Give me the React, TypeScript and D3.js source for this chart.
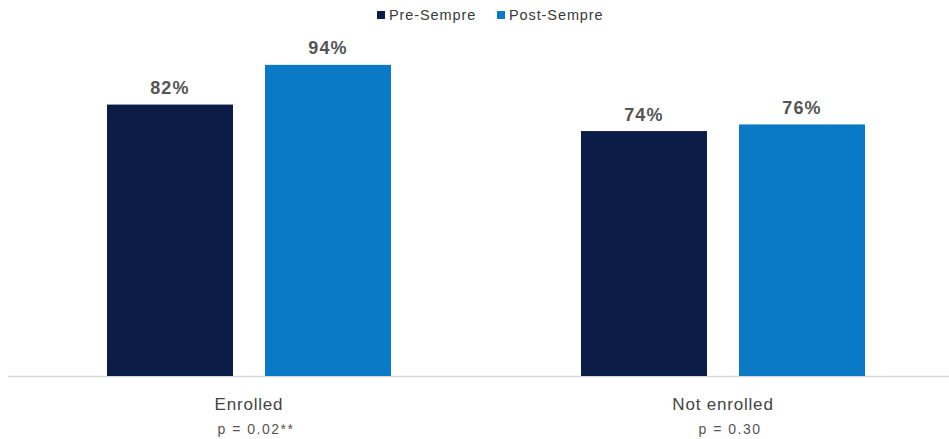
import React from "react";
import * as d3 from "d3";

const categories = ["Enrolled", "Not enrolled"];
const pValues = ["p = 0.02**", "p = 0.30"];
const seriesNames = ["Pre-Sempre", "Post-Sempre"];
const preValues = [82, 74];
const postValues = [94, 76];
const colors = ["#0b1c47", "#0a79c6"];

const W = 949;
const H = 439;

export default function App() {
  const x0 = d3.scaleBand<string>().domain(categories).range([12, 960]).paddingInner(0.4008).paddingOuter(0.2004);
  const x1 = d3.scaleBand<string>().domain(seriesNames).range([0, x0.bandwidth()]).paddingInner(0.2025).paddingOuter(0);
  const y = d3.scaleLinear().domain([0, 100]).range([376, 45]);
  const series = [preValues, postValues];
  const font = "Liberation Sans, Arial, Helvetica, sans-serif";

  return (
    <svg width={W} height={H} style={{ position: "absolute", left: 0, top: 0, background: "#fff" }} fontFamily={font}>
      <rect x={0} y={0} width={W} height={H} fill="#fff" />
      {/* legend */}
      {seriesNames.map((s, i) => {
        const lx = i === 0 ? 377 : 497;
        return (
          <g key={s}>
            <rect x={lx} y={11} width={8} height={8} fill={colors[i]} />
            <text x={lx + 12} y={20} fontSize={14.5} fill="#3a3a3a" letterSpacing={0.9}>{s}</text>
          </g>
        );
      })}
      {/* axis line */}
      <line x1={8} x2={W} y1={376.5} y2={376.5} stroke="#d9d9d9" strokeWidth={1.5} />
      {categories.map((c, ci) => (
        <g key={c} transform={`translate(${x0(c)},0)`}>
          {seriesNames.map((s, si) => {
            const v = series[si][ci];
            const bx = x1(s)!;
            return (
              <g key={s}>
                <rect x={bx} y={y(v)} width={x1.bandwidth()} height={y(0) - y(v)} fill={colors[si]} />
                <text x={bx + x1.bandwidth() / 2} y={y(v) - 10.5} textAnchor="middle" fontSize={18} fontWeight="bold" fill="#555" letterSpacing={1.2}>{v}%</text>
              </g>
            );
          })}
          <text x={x0.bandwidth() / 2} y={410} textAnchor="middle" fontSize={17} fill="#444" letterSpacing={0.8}>{c}</text>
          <text x={x0.bandwidth() / 2 + 7} y={434} textAnchor="middle" fontSize={14} fill="#555" letterSpacing={1.5}>{pValues[ci]}</text>
        </g>
      ))}
    </svg>
  );
}
